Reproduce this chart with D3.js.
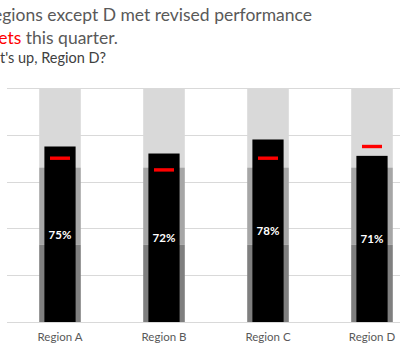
<!DOCTYPE html>
<html><head><meta charset="utf-8">
<script src="https://cdn.jsdelivr.net/npm/d3@7"></script>
<style>
html,body{margin:0;padding:0;background:#fff;overflow:hidden}
svg{display:block}
text{font-family:Lato,"Open Sans",sans-serif}
</style></head>
<body>
<svg id="c" width="400" height="350"></svg>
<script>
const categories = ["Region A","Region B","Region C","Region D"];
const actual = [75,72,78,71];
const target = [70,65,70,75];
const bandPoor = [33,33,33,33];
const bandOk = [66,66,66,66];
const bandGood = [100,100,100,100];
const yTicks = [0,20,40,60,80,100];
const titleLine1 = "All regions except D met revised performance";
const titleRed = "targets";
const titleLine2 = " this quarter.";
const subtitle = "What's up, Region D?";

const svg = d3.select("#c");
const x = d3.scaleBand().domain(categories).range([8,424]).paddingInner(0.6).paddingOuter(0.3);
const y = d3.scaleLinear().domain([0,100]).range([322,88]);

// gridlines
svg.append("g").selectAll("line").data(yTicks).join("line")
  .attr("x1",7).attr("x2",430)
  .attr("y1",d=>Math.round(y(d))+0.5).attr("y2",d=>Math.round(y(d))+0.5)
  .attr("stroke","#d9d9d9").attr("stroke-width",1);

const rows = categories.map((c,i)=>({c,a:actual[i],t:target[i],p:bandPoor[i],o:bandOk[i],g:bandGood[i]}));
const g = svg.append("g");
// qualitative bands
g.selectAll(".bg").data(rows).join("rect").attr("class","bg")
  .attr("x",d=>x(d.c)).attr("width",x.bandwidth())
  .attr("y",d=>y(d.g)).attr("height",d=>y(d.o)-y(d.g)).attr("fill","#d9d9d9");
g.selectAll(".bo").data(rows).join("rect").attr("class","bo")
  .attr("x",d=>x(d.c)).attr("width",x.bandwidth())
  .attr("y",d=>y(d.o)).attr("height",d=>y(d.p)-y(d.o)).attr("fill","#a6a6a6");
g.selectAll(".bp").data(rows).join("rect").attr("class","bp")
  .attr("x",d=>x(d.c)).attr("width",x.bandwidth())
  .attr("y",d=>y(d.p)).attr("height",d=>y(0)-y(d.p)).attr("fill","#7f7f7f");
// actual bars
const bw = x.step()*0.3;
g.selectAll(".act").data(rows).join("rect").attr("class","act")
  .attr("x",d=>x(d.c)+x.bandwidth()/2-bw/2).attr("width",bw)
  .attr("y",d=>y(d.a)).attr("height",d=>y(0)-y(d.a)).attr("fill","#000");
// targets
const tw = 20;
g.selectAll(".tgt").data(rows).join("rect").attr("class","tgt")
  .attr("x",d=>x(d.c)+x.bandwidth()/2-tw/2).attr("width",tw)
  .attr("y",d=>y(d.t)-1.7).attr("height",3.4).attr("fill","#ff0000");
// value labels
g.selectAll(".val").data(rows).join("text").attr("class","val")
  .attr("x",d=>x(d.c)+x.bandwidth()/2).attr("y",d=>(y(d.a)+y(0))/2+4.5)
  .attr("text-anchor","middle").attr("fill","#fff").attr("font-weight","bold")
  .attr("font-size",11.5).text(d=>d.a+"%");

// x axis labels
const xAxis = d3.axisBottom(x).tickSize(0).tickPadding(11);
const ax = svg.append("g").attr("transform",`translate(0,${y(0)})`).call(xAxis);
ax.select(".domain").remove();
ax.selectAll("text").attr("font-size",11.5).attr("fill","#595959").style("font-family","Lato,'Open Sans',sans-serif");

// titles
svg.append("text").attr("x",312).attr("y",21).attr("text-anchor","end")
  .attr("font-size",17.5).attr("fill","#595959").text(titleLine1);
const t2 = svg.append("text").attr("x",118).attr("y",44).attr("text-anchor","end")
  .attr("font-size",17.5).attr("fill","#595959");
t2.append("tspan").attr("fill","#ff0000").text(titleRed);
t2.append("tspan").text(titleLine2);
svg.append("text").attr("x",106).attr("y",63).attr("text-anchor","end")
  .attr("font-size",14.5).attr("fill","#404040").text(subtitle);
</script>
</body></html>
